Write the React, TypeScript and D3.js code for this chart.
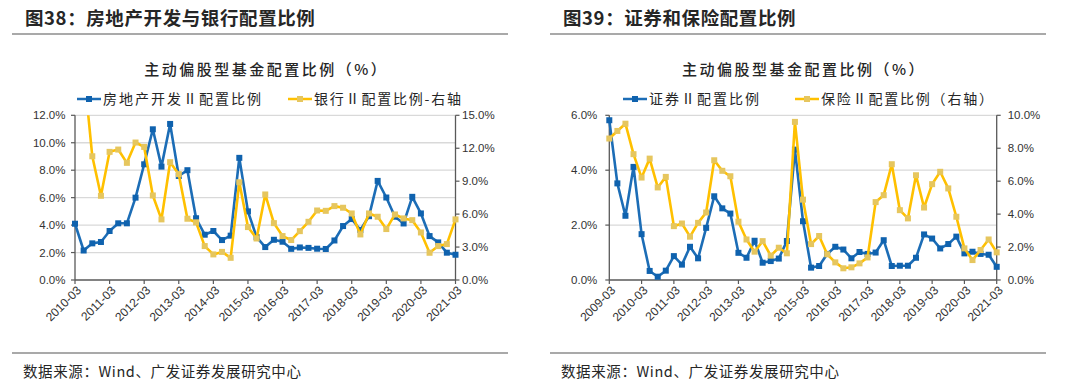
import React from 'react';
import * as d3 from 'd3';

const W = 1080;
const H = 388;

// ---------- Figure 38 data ----------
const leftTickLabels = ['2010-03', '2011-03', '2012-03', '2013-03', '2014-03', '2015-03', '2016-03', '2017-03', '2018-03', '2019-03', '2020-03', '2021-03'];
const realEstateShare = [4.1, 2.15, 2.67, 2.77, 3.57, 4.13, 4.13, 6.0, 8.43, 10.98, 8.26, 11.37, 7.58, 8.0, 4.5, 3.3, 3.57, 2.91, 3.23, 8.9, 5.0, 3.12, 2.4, 2.93, 2.79, 2.27, 2.37, 2.34, 2.28, 2.26, 2.88, 3.93, 4.44, 3.64, 4.65, 7.22, 6.01, 4.61, 4.12, 6.06, 4.85, 3.2, 2.74, 1.99, 1.84];
const bankShare = [18.0, 19.3, 11.27, 7.67, 11.67, 11.88, 10.67, 12.52, 12.12, 7.7, 5.52, 10.73, 9.64, 5.58, 5.25, 3.09, 2.33, 2.56, 2.02, 8.9, 4.82, 3.78, 7.79, 5.18, 4.0, 3.64, 4.45, 5.3, 6.33, 6.3, 6.73, 6.58, 6.06, 4.15, 6.06, 5.76, 4.64, 5.97, 5.61, 5.45, 4.33, 2.48, 3.09, 3.27, 5.52];
const leftYTicks = [0, 2, 4, 6, 8, 10, 12];
const leftY2Ticks = [0, 3, 6, 9, 12, 15];

// ---------- Figure 39 data ----------
const rightTickLabels = ['2009-03', '2010-03', '2011-03', '2012-03', '2013-03', '2014-03', '2015-03', '2016-03', '2017-03', '2018-03', '2019-03', '2020-03', '2021-03'];
const securitiesShare = [5.82, 3.52, 2.34, 4.12, 1.67, 0.33, 0.12, 0.34, 0.87, 0.56, 1.21, 0.79, 1.9, 3.05, 2.61, 2.42, 0.99, 0.81, 1.43, 0.63, 0.69, 0.78, 1.42, 4.75, 2.14, 0.45, 0.51, 0.95, 1.21, 1.11, 0.79, 1.02, 0.95, 1.0, 1.45, 0.51, 0.52, 0.52, 0.81, 1.66, 1.51, 1.15, 1.31, 1.58, 0.97, 1.03, 0.95, 0.92, 0.48];
const insuranceShare = [8.59, 9.05, 9.49, 7.64, 6.22, 7.37, 5.62, 6.26, 3.27, 3.43, 2.63, 3.47, 4.1, 7.27, 6.63, 6.3, 3.54, 2.46, 1.72, 2.36, 1.48, 1.96, 1.62, 9.6, 4.88, 2.18, 2.67, 1.56, 1.07, 0.71, 0.77, 1.01, 1.37, 4.73, 5.15, 7.03, 4.24, 3.74, 6.36, 4.4, 5.82, 6.57, 5.56, 3.84, 1.92, 1.21, 1.82, 2.46, 1.68];
const rightYTicks = [0, 2, 4, 6];
const rightY2Ticks = [0, 2, 4, 6, 8, 10];

// quarterly categories between the first and last yearly label
function quarterCategories(ticks: string[]): string[] {
  const out: string[] = [];
  const first = +ticks[0].slice(0, 4);
  const last = +ticks[ticks.length - 1].slice(0, 4);
  for (let y = first; y <= last; y++) {
    for (const m of ['03', '06', '09', '12']) {
      out.push(`${y}-${m}`);
      if (y === last) break;
    }
  }
  return out;
}

const BLUE_LINE = '#1c6db6';
const BLUE_MARK = '#0f62ae';
const GOLD_LINE = '#ffc000';
const GOLD_MARK = '#e6c65e';
const TEXT = '#262626';
const AXIS = '#595959';
const GRID = '#d9d9d9';
const CJK = '"Noto Sans CJK SC", "Noto Sans", sans-serif';
const LATIN = '"Liberation Sans", Arial, sans-serif';

type PanelCfg = {
  id: string;
  ox: number;
  heading: string;
  tickLabels: string[];
  s1: number[];
  s2: number[];
  s1Name: string;
  s2Name: string;
  yTicks: number[];
  y2Ticks: number[];
  plotL: number;
  plotR: number;
  leg1X: number;
  leg2X: number;
  gapL: number;
  gapR: number;
};

const PLOT_T = 115.3;
const PLOT_B = 280;

function Panel({ cfg }: { cfg: PanelCfg }) {
  const cats = quarterCategories(cfg.tickLabels);
  const x = d3.scalePoint<string>().domain(cats).range([cfg.plotL, cfg.plotR]);
  const y = d3.scaleLinear().domain([0, d3.max(cfg.yTicks)!]).range([PLOT_B, PLOT_T]);
  const y2 = d3.scaleLinear().domain([0, d3.max(cfg.y2Ticks)!]).range([PLOT_B, PLOT_T]);
  const l1 = d3.line<number>().x((_, i) => x(cats[i])!).y((d) => y(d));
  const l2 = d3.line<number>().x((_, i) => x(cats[i])!).y((d) => y2(d));
  const fmt = d3.format('.1f');
  const ms = 6;
  const clipId = `clip-${cfg.id}`;
  const left0 = cfg.ox;
  return (
    <g>
      <defs>
        <clipPath id={clipId}>
          <rect x={cfg.plotL - 8} y={PLOT_T} width={cfg.plotR - cfg.plotL + 16} height={PLOT_B - PLOT_T + 8} />
        </clipPath>
      </defs>
      {/* heading */}
      <text x={left0 + 25} y={25} fontFamily={CJK} fontSize={18.5} fontWeight={700} fill={TEXT} letterSpacing={0.6}>
        {cfg.heading}
      </text>
      <line x1={left0 + 12} x2={left0 + 508} y1={34} y2={34} stroke="#8c8c8c" strokeWidth={1.6} />
      {/* chart title */}
      <text x={(cfg.plotL + cfg.plotR) / 2 + 1} y={75} textAnchor="middle" fontFamily={CJK} fontSize={15} fontWeight={500} fill={TEXT} letterSpacing={2.5}>
        主动偏股型基金配置比例（%）
      </text>
      {/* legend */}
      <g>
        <line x1={cfg.leg1X} x2={cfg.leg1X + 24} y1={99} y2={99} stroke={BLUE_LINE} strokeWidth={2.5} />
        <rect x={cfg.leg1X + 12 - ms / 2} y={99 - ms / 2} width={ms} height={ms} fill={BLUE_MARK} />
        <text x={cfg.leg1X + 26} y={104} fontFamily={CJK} fontSize={14} fill={TEXT} letterSpacing={2}>{cfg.s1Name}</text>
        <line x1={cfg.leg2X} x2={cfg.leg2X + 24} y1={99} y2={99} stroke={GOLD_LINE} strokeWidth={2.5} />
        <rect x={cfg.leg2X + 12 - ms / 2} y={99 - ms / 2} width={ms} height={ms} fill={GOLD_MARK} />
        <text x={cfg.leg2X + 26} y={104} fontFamily={CJK} fontSize={14} fill={TEXT} letterSpacing={1.8}>{cfg.s2Name}</text>
      </g>
      {/* gridlines */}
      {cfg.yTicks.filter((t) => t > 0).map((t) => (
        <line key={`g${t}`} x1={cfg.plotL} x2={cfg.plotR} y1={y(t)} y2={y(t)} stroke={GRID} strokeWidth={1.3} />
      ))}
      {/* axes */}
      <line x1={cfg.plotL} x2={cfg.plotL} y1={PLOT_T} y2={PLOT_B} stroke={AXIS} strokeWidth={1.3} />
      <line x1={cfg.plotR} x2={cfg.plotR} y1={PLOT_T} y2={PLOT_B} stroke={AXIS} strokeWidth={1.3} />
      <line x1={cfg.plotL} x2={cfg.plotR} y1={PLOT_B} y2={PLOT_B} stroke={AXIS} strokeWidth={1.3} />
      {cfg.yTicks.map((t) => (
        <g key={`yl${t}`}>
          <line x1={cfg.plotL - 4} x2={cfg.plotL} y1={y(t)} y2={y(t)} stroke={AXIS} strokeWidth={1.2} />
          <text x={cfg.plotL - cfg.gapL} y={y(t)} dy="0.35em" textAnchor="end" fontFamily={LATIN} fontSize={11.5} fill="#333">
            {fmt(t)}%
          </text>
        </g>
      ))}
      {cfg.y2Ticks.map((t) => (
        <g key={`yr${t}`}>
          <line x1={cfg.plotR} x2={cfg.plotR + 4} y1={y2(t)} y2={y2(t)} stroke={AXIS} strokeWidth={1.2} />
          <text x={cfg.plotR + cfg.gapR} y={y2(t)} dy="0.35em" textAnchor="start" fontFamily={LATIN} fontSize={11.5} fill="#333">
            {fmt(t)}%
          </text>
        </g>
      ))}
      {cfg.tickLabels.map((lab) => {
        const tx = x(lab)!;
        return (
          <g key={`xt${lab}`}>
            <line x1={tx} x2={tx} y1={PLOT_B} y2={PLOT_B + 4} stroke={AXIS} strokeWidth={1.2} />
            <text transform={`translate(${tx + 4},${PLOT_B + 8}) rotate(-45)`} textAnchor="end" dy="0.35em" fontFamily={LATIN} fontSize={12} fill="#333">
              {lab}
            </text>
          </g>
        );
      })}
      {/* series */}
      <g clipPath={`url(#${clipId})`}>
        <path d={l1(cfg.s1)!} fill="none" stroke={BLUE_LINE} strokeWidth={2.6} strokeLinejoin="round" />
        {cfg.s1.map((d, i) => (
          <rect key={`m1${i}`} x={x(cats[i])! - ms / 2} y={y(d) - ms / 2} width={ms} height={ms} fill={BLUE_MARK} />
        ))}
        <path d={l2(cfg.s2)!} fill="none" stroke={GOLD_LINE} strokeWidth={2.6} strokeLinejoin="round" />
        {cfg.s2.map((d, i) => (
          <rect key={`m2${i}`} x={x(cats[i])! - ms / 2} y={y2(d) - ms / 2} width={ms} height={ms} fill={GOLD_MARK} />
        ))}
      </g>
      {/* source */}
      <line x1={left0 + 12} x2={left0 + 508} y1={353} y2={353} stroke="#8c8c8c" strokeWidth={1.6} />
      <text x={left0 + 23} y={377} fontFamily={CJK} fontSize={14.5} fill={TEXT} letterSpacing={0.6}>
        数据来源：Wind、广发证券发展研究中心
      </text>
    </g>
  );
}

const leftCfg: PanelCfg = {
  id: 'f38',
  ox: 0,
  heading: '图38：房地产开发与银行配置比例',
  tickLabels: leftTickLabels,
  s1: realEstateShare,
  s2: bankShare,
  s1Name: '房地产开发Ⅱ配置比例',
  s2Name: '银行Ⅱ配置比例-右轴',
  yTicks: leftYTicks,
  y2Ticks: leftY2Ticks,
  plotL: 75,
  plotR: 455.5,
  leg1X: 77,
  leg2X: 288,
  gapL: 9.5,
  gapR: 6.5,
};

const rightCfg: PanelCfg = {
  id: 'f39',
  ox: 538,
  heading: '图39：证券和保险配置比例',
  tickLabels: rightTickLabels,
  s1: securitiesShare,
  s2: insuranceShare,
  s1Name: '证券Ⅱ配置比例',
  s2Name: '保险Ⅱ配置比例（右轴）',
  yTicks: rightYTicks,
  y2Ticks: rightY2Ticks,
  plotL: 609.3,
  plotR: 996.7,
  leg1X: 623,
  leg2X: 795,
  gapL: 12,
  gapR: 11,
};

export default function App() {
  return (
    <div style={{ position: 'absolute', left: 0, top: 0 }}>
      <svg width={W} height={H} viewBox={`0 0 ${W} ${H}`} style={{ display: 'block', background: '#fff' }}>
        <rect width={W} height={H} fill="#fff" />
        <Panel cfg={leftCfg} />
        <Panel cfg={rightCfg} />
      </svg>
    </div>
  );
}
